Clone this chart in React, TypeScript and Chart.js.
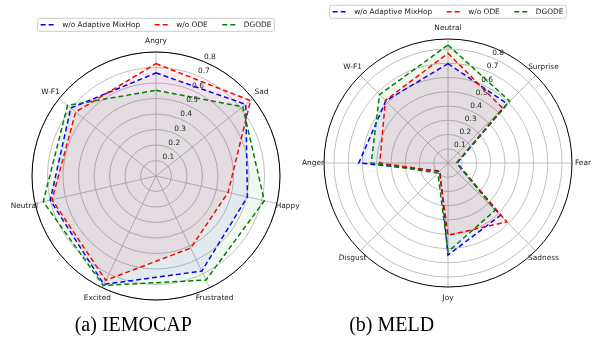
import React, { useEffect, useRef } from 'react';
import { Chart, registerables } from 'chart.js';

Chart.register(...registerables);

// ---------- data ----------
const SERIES_NAMES = ['w/o Adaptive MixHop', 'w/o ODE', 'DGODE'];
const SERIES_COLORS = ['#0000ff', '#ff0000', '#008000'];
const SERIES_FILLS = ['rgba(0,0,255,0.06)', 'rgba(255,0,0,0.06)', 'rgba(0,128,0,0.06)'];

const IEMOCAP_LABELS = ['Angry', 'Sad', 'Happy', 'Frustrated', 'Excited', 'Neutral', 'W-F1'];
const IEMOCAP_MIXHOP = [0.665, 0.741, 0.605, 0.681, 0.776, 0.70, 0.703];
const IEMOCAP_NO_ODE = [0.725, 0.78, 0.477, 0.516, 0.747, 0.688, 0.663];
const IEMOCAP_DGODE = [0.553, 0.716, 0.717, 0.745, 0.784, 0.746, 0.73];

const MELD_LABELS = ['Neutral', 'Surprise', 'Fear', 'Sadness', 'Joy', 'Disgust', 'Anger', 'W-F1'];
const MELD_MIXHOP = [0.697, 0.588, 0.065, 0.52, 0.646, 0.08, 0.626, 0.617];
const MELD_NO_ODE = [0.77, 0.543, 0.06, 0.584, 0.507, 0.085, 0.479, 0.621];
const MELD_DGODE = [0.828, 0.613, 0.06, 0.469, 0.623, 0.1, 0.539, 0.679];

const RADIAL_TICKS = [0.1, 0.2, 0.3, 0.4, 0.5, 0.6, 0.7, 0.8];
const IEMOCAP_MAX = 0.8;
const MELD_MAX = 0.87;

const CAPTIONS = ['(a) IEMOCAP', '(b) MELD'];

const FONT = '"DejaVu Sans", sans-serif';
const FS = 7.4;
const DASH = [5, 3];

function makeDecor(labels: string[]) {
  return {
    id: 'decor',
    afterDraw(chart: any) {
      const scale = chart.scales.r;
      const ctx = chart.ctx as CanvasRenderingContext2D;
      const cx = scale.xCenter;
      const cy = scale.yCenter;
      ctx.save();
      // outer spine
      ctx.beginPath();
      ctx.arc(cx, cy, scale.getDistanceFromCenterForValue(scale.max), 0, Math.PI * 2);
      ctx.strokeStyle = '#000';
      ctx.lineWidth = 1;
      ctx.setLineDash([]);
      ctx.stroke();

      // radial tick labels at 22.5 deg
      ctx.font = `${FS}px ${FONT}`;
      ctx.fillStyle = '#222';
      ctx.textAlign = 'left';
      ctx.textBaseline = 'middle';
      const a = (22.5 * Math.PI) / 180;
      RADIAL_TICKS.forEach((v) => {
        const d = scale.getDistanceFromCenterForValue(v);
        ctx.fillText(v.toFixed(1), cx + Math.sin(a) * d + 0.5, cy - Math.cos(a) * d - 4.4);
      });

      // category labels
      ctx.textAlign = 'center';
      labels.forEach((l, i) => {
        const p = scale.getPointPosition(i, scale.drawingArea + 11);
        ctx.fillText(l, p.x, p.y);
      });

      // legend
      const widths = SERIES_NAMES.map((n) => ctx.measureText(n).width);
      const pad = 3, handle = 13, textPad = 8.5, colGap = 14.5;
      const total =
        pad * 2 + widths.reduce((s, w) => s + handle + textPad + w, 0) + colGap * (SERIES_NAMES.length - 1);
      const left = cx - total / 2;
      const top = cy - 157.7;
      const h = 13;
      ctx.beginPath();
      const r = 2;
      ctx.moveTo(left + r, top);
      ctx.lineTo(left + total - r, top);
      ctx.quadraticCurveTo(left + total, top, left + total, top + r);
      ctx.lineTo(left + total, top + h - r);
      ctx.quadraticCurveTo(left + total, top + h, left + total - r, top + h);
      ctx.lineTo(left + r, top + h);
      ctx.quadraticCurveTo(left, top + h, left, top + h - r);
      ctx.lineTo(left, top + r);
      ctx.quadraticCurveTo(left, top, left + r, top);
      ctx.closePath();
      ctx.fillStyle = 'rgba(255,255,255,0.8)';
      ctx.fill();
      ctx.strokeStyle = '#cccccc';
      ctx.lineWidth = 1;
      ctx.stroke();
      let x = left + pad;
      const ly = top + h / 2;
      SERIES_NAMES.forEach((n, i) => {
        ctx.beginPath();
        ctx.setLineDash(DASH);
        ctx.strokeStyle = SERIES_COLORS[i];
        ctx.lineWidth = 1.5;
        ctx.moveTo(x, ly);
        ctx.lineTo(x + handle, ly);
        ctx.stroke();
        ctx.setLineDash([]);
        x += handle + textPad;
        ctx.fillStyle = '#222';
        ctx.textAlign = 'left';
        ctx.fillText(n, x, ly);
        x += widths[i] + colGap;
      });
      ctx.restore();
    },
  };
}

function RadarPanel(props: {
  labels: string[];
  series: number[][];
  max: number;
  style: React.CSSProperties;
  width: number;
  height: number;
  padding: { left: number; top: number; right: number; bottom: number };
}) {
  const ref = useRef<HTMLCanvasElement | null>(null);
  useEffect(() => {
    if (!ref.current) return;
    const chart = new Chart(ref.current, {
      type: 'radar',
      data: {
        labels: props.labels,
        datasets: props.series.map((d, i) => ({
          label: SERIES_NAMES[i],
          data: d,
          borderColor: SERIES_COLORS[i],
          backgroundColor: SERIES_FILLS[i],
          borderWidth: 1.5,
          borderDash: DASH,
          fill: true,
          pointRadius: 0,
          tension: 0,
          order: 2 - i,
        })),
      },
      options: {
        responsive: false,
        animation: false,
        layout: { padding: props.padding },
        plugins: { legend: { display: false }, tooltip: { enabled: false } },
        scales: {
          r: {
            min: 0,
            max: props.max,
            bounds: 'data',
            ticks: { display: false, stepSize: 0.1, includeBounds: false },
            grid: { circular: true, color: '#b0b0b0', lineWidth: 0.8 },
            angleLines: { display: true, color: '#b0b0b0', lineWidth: 0.8 },
            pointLabels: { display: false },
          },
        },
      } as any,
      plugins: [makeDecor(props.labels)],
    });
    return () => chart.destroy();
  }, []);
  return <canvas ref={ref} width={props.width} height={props.height} style={props.style} />;
}

export default function App() {
  return (
    <div style={{ position: 'fixed', left: 0, top: 0, width: 595, height: 338, background: '#fff', overflow: 'hidden' }}>
      <RadarPanel
        labels={IEMOCAP_LABELS}
        series={[IEMOCAP_MIXHOP, IEMOCAP_NO_ODE, IEMOCAP_DGODE]}
        max={IEMOCAP_MAX}
        width={312}
        height={338}
        padding={{ left: 32, top: 52, right: 32, bottom: 38 }}
        style={{ position: 'absolute', left: 0, top: 0, width: 312, height: 338 }}
      />
      <RadarPanel
        labels={MELD_LABELS}
        series={[MELD_MIXHOP, MELD_NO_ODE, MELD_DGODE]}
        max={MELD_MAX}
        width={303}
        height={338}
        padding={{ left: 32, top: 39, right: 23, bottom: 51 }}
        style={{ position: 'absolute', left: 292, top: 0, width: 303, height: 338 }}
      />
      {CAPTIONS.map((c, i) => (
        <div
          key={c}
          style={{
            position: 'absolute',
            left: (i === 0 ? 133.3 : 391.7) - 100,
            width: 200,
            top: 313.8,
            lineHeight: '20px',
            fontSize: 20,
            fontFamily: '"Liberation Serif", serif',
            textAlign: 'center',
            color: '#000',
            whiteSpace: 'nowrap',
          }}
        >
          {c}
        </div>
      ))}
    </div>
  );
}
